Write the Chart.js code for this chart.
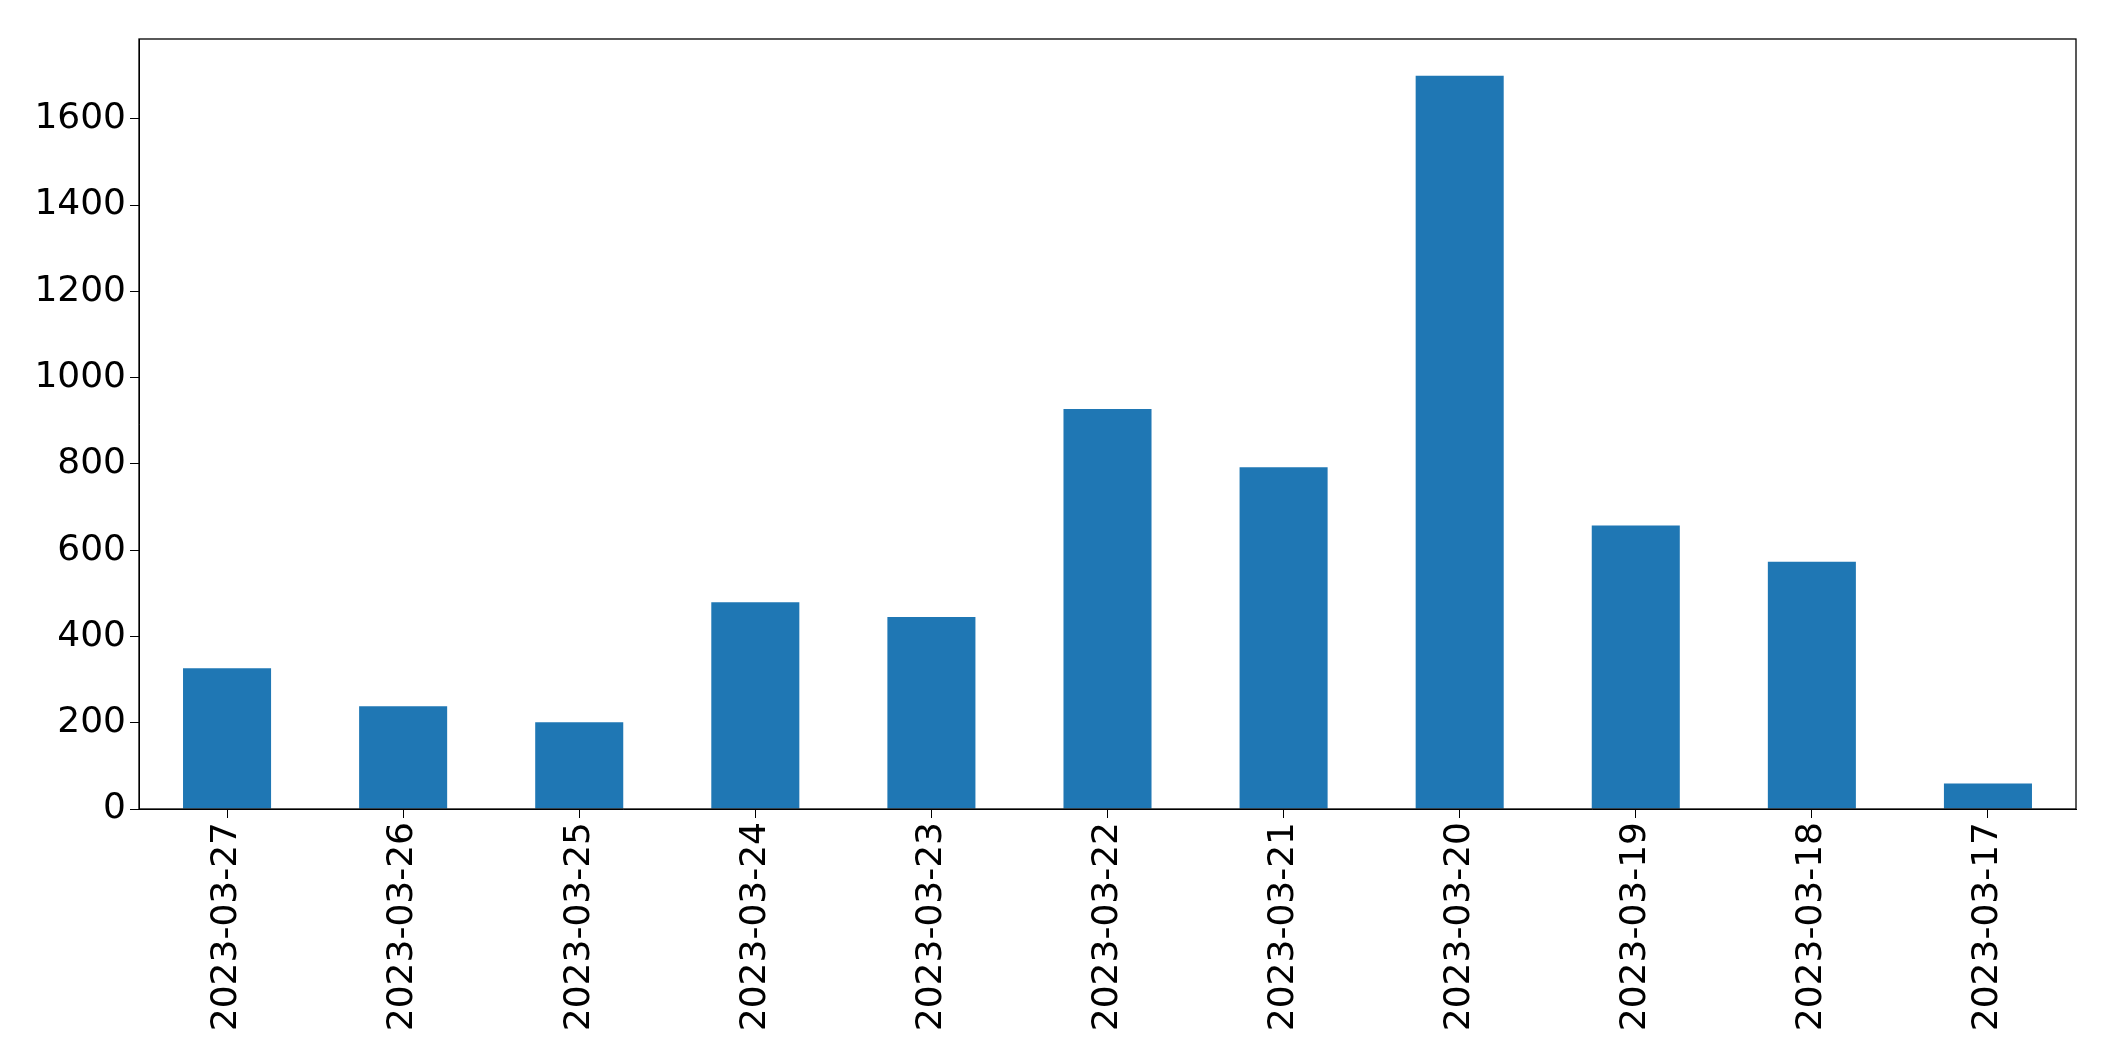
<!DOCTYPE html>
<html><head><meta charset="utf-8">
<script src="https://cdn.jsdelivr.net/npm/chart.js@4"></script>
<style>html,body{margin:0;padding:0;background:#fff}#w{width:2115px;height:1061px}</style>
</head><body><div id="w"><canvas id="c"></canvas></div>
<script>
const categories = ["2023-03-27","2023-03-26","2023-03-25","2023-03-24","2023-03-23","2023-03-22","2023-03-21","2023-03-20","2023-03-19","2023-03-18","2023-03-17"];
const values = [326, 238, 201, 479, 445, 927, 792, 1700, 657, 573, 59];
const yTicks = [0,200,400,600,800,1000,1200,1400,1600];

const frame = {id:'frame', afterDraw(ch){const a=ch.chartArea,c=ch.ctx;c.save();c.strokeStyle='#000';c.lineWidth=1.3;c.strokeRect(a.left,a.top,a.right-a.left,a.bottom-a.top);c.restore();}};
const font = {family:'DejaVu Sans', size:36};
new Chart(document.getElementById('c'), {
  type:'bar',
  data:{labels:categories, datasets:[{data:values, backgroundColor:'#1f77b4', categoryPercentage:1, barPercentage:0.5}]},
  options:{
    responsive:true, maintainAspectRatio:false, animation:false,
    layout:{padding:{top:39,right:39,bottom:0,left:0}},
    plugins:{legend:{display:false}, tooltip:{enabled:false}},
    scales:{
      x:{offset:true, grid:{display:true, offset:false, drawOnChartArea:false, tickLength:9, color:'#000'}, border:{color:'#000'},
         afterFit(s){s.height=252;},
         ticks:{color:'#000', font, maxRotation:90, minRotation:90, padding:4}},
      y:{min:0, max:1785, grid:{drawOnChartArea:false, tickLength:9, color:'#000'}, border:{color:'#000'},
         afterFit(s){s.width=139;},
         afterBuildTicks(s){s.ticks=yTicks.map(v=>({value:v}));},
         ticks:{color:'#000', font, padding:4, callback:v=>String(v)}}
    }
  },
  plugins:[frame]
});
</script></body></html>
